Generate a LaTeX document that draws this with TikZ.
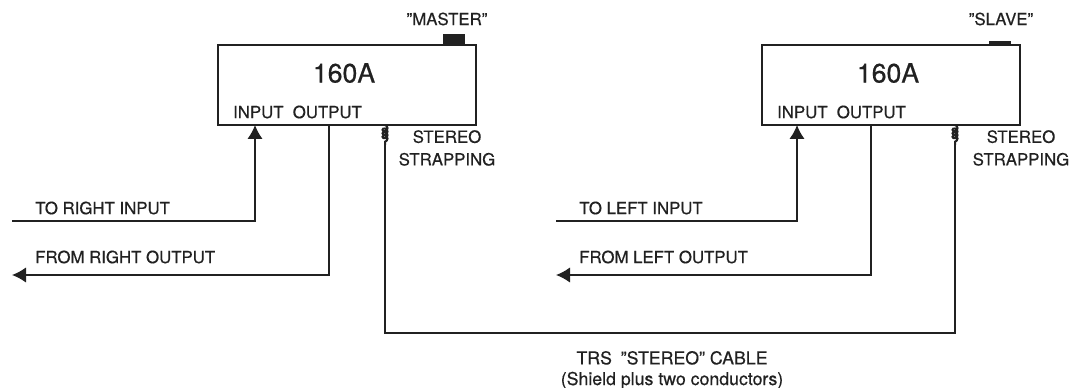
\documentclass[tikz,border=0pt]{standalone}
\usepackage{fontspec}
\setmainfont[FakeBold=0.5]{TeX Gyre Heros}
\usetikzlibrary{arrows.meta}
\usetikzlibrary{decorations.pathmorphing}
\definecolor{ink}{gray}{0.13}
\tikzstyle{unit} = [rectangle, draw=ink, fill=white, minimum width=193.5pt, minimum height=60pt, inner sep=0pt, line width=1.2pt]
\tikzstyle{button} = [rectangle, fill=ink, inner sep=0pt, minimum width=16.5pt]
\tikzstyle{label} = [inner sep=0pt, text=ink, font=\fontsize{12.6}{17}\selectfont, align=center]
\tikzstyle{model} = [inner sep=0pt, text=ink, font=\fontsize{20}{24}\selectfont]
\tikzstyle{line} = [draw=ink, line width=1.1pt]
\tikzstyle{signal} = [draw=ink, -{Latex[length=10.5pt,width=11.5pt]}, line width=1.1pt]
\tikzstyle{strap} = [draw=ink, line width=1.5pt, decorate, decoration={coil, aspect=0.9, amplitude=1.9pt, segment length=2.6pt}]

\begin{document}
\begin{tikzpicture}[x=0.75pt,y=-0.75pt]
\useasboundingbox (0,0) rectangle (1073,388);
% Place nodes
	\node [unit] (master) at (347,85) {};
	\node [unit] (slave) at (891,85) {};
	\node [button, minimum height=8.25pt] (masterBtn) at (454,39.5) {};
	\node [button, minimum height=3pt] (slaveBtn) at (999.5,43) {};
	\node [label] (masterName) at (447,19) {"MASTER"};
	\node [label] (slaveName) at (1001,19) {"SLAVE"};
	\node [model] (masterModel) at (344,73) {160A};
	\node [model] (slaveModel) at (888,73) {160A};
	\node [label] (masterPorts) at (297.5,112) {INPUT\hspace{0.55em}OUTPUT};
	\node [label] (slavePorts) at (841.5,112) {INPUT\hspace{0.55em}OUTPUT};
	\node [label] (masterStrap) at (447,148) {STEREO\\STRAPPING};
	\node [label] (slaveStrap) at (1021,148) {STEREO\\STRAPPING};
	\node [label, anchor=west] (toRight) at (35,208) {TO RIGHT INPUT};
	\node [label, anchor=west] (fromRight) at (35,257) {FROM RIGHT OUTPUT};
	\node [label, anchor=west] (toLeft) at (579,208) {TO LEFT INPUT};
	\node [label, anchor=west] (fromLeft) at (579,257) {FROM LEFT OUTPUT};
	\node [label, font=\fontsize{13.3}{15.5}\selectfont] (cable) at (672,370) {TRS\hspace{0.5em}"STEREO" CABLE\\(Shield plus two conductors)};

% Wire ends
	\coordinate (masterIn) at (255,125);
	\coordinate (masterOut) at (329,125);
	\coordinate (masterTrs) at (385,125);
	\coordinate (masterCoil) at (385,145);
	\coordinate (slaveIn) at (797,125);
	\coordinate (slaveOut) at (871,125);
	\coordinate (slaveTrs) at (955,125);
	\coordinate (slaveCoil) at (955,145);
	\coordinate (toRightEnd) at (12,221);
	\coordinate (fromRightEnd) at (12,275);
	\coordinate (toLeftEnd) at (556,221);
	\coordinate (fromLeftEnd) at (556,275);
	\coordinate (cableCorner) at (385,333);

% Draw edges
	\path [signal] (toRightEnd) -| (masterIn);
	\path [signal] (masterOut) |- (fromRightEnd);
	\path [signal] (toLeftEnd) -| (slaveIn);
	\path [signal] (slaveOut) |- (fromLeftEnd);
	\path [strap] (masterTrs) -- (masterCoil);
	\path [strap] (slaveTrs) -- (slaveCoil);
	\path [line] (masterCoil) |- (cableCorner) -| (slaveCoil);

\end{tikzpicture}
\end{document}
